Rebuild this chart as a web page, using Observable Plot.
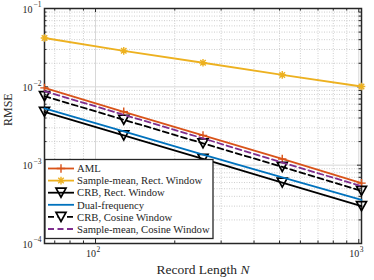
<!DOCTYPE html>
<html><head><meta charset="utf-8">
<script src="https://cdn.jsdelivr.net/npm/d3@7"></script>
<script src="https://cdn.jsdelivr.net/npm/@observablehq/plot@0.6"></script>
<style>
html,body{margin:0;padding:0;background:#fff;}
#chart{position:relative;width:374px;height:280px;}
</style></head><body><div id="chart"></div>
<script>
// ---- data ----
const N = [64, 128, 256, 512, 1024];
const aml      = [0.0097, 0.0048, 0.0024, 0.0012, 0.00059];
const smRect   = [0.042, 0.0288, 0.0203, 0.0142, 0.0101];
const crbRect  = [0.0048, 0.0024, 0.0012, 0.0006, 0.0003];
const dualFreq = [0.0053, 0.0027, 0.00136, 0.0007, 0.00036];
const crbCos   = [0.0076, 0.0038, 0.0019, 0.00095, 0.00047];
const smCos    = [0.0088, 0.0044, 0.0022, 0.00108, 0.00054];
const seriesNames = ["AML", "Sample-mean, Rect. Window", "CRB, Rect. Window", "Dual-frequency", "CRB, Cosine Window", "Sample-mean, Cosine Window"];
const xMajor = [100, 1000];
const xExp = ["2", "3"];
const xMinor = [70, 80, 90, 200, 300, 400, 500, 600, 700, 800, 900];
const yMajor = [1e-4, 1e-3, 1e-2, 1e-1];
const yExp = ["\u22124", "\u22123", "\u22122", "\u22121"];
const yMinor = [2e-4,3e-4,4e-4,5e-4,6e-4,7e-4,8e-4,9e-4,2e-3,3e-3,4e-3,5e-3,6e-3,7e-3,8e-3,9e-3,2e-2,3e-2,4e-2,5e-2,6e-2,7e-2,8e-2,9e-2];
const xLabel = "Record Length N";
const yLabel = "RMSE";

// ---- layout ----
const W = 374, H = 280, mL = 44, mR = 13, mT = 8, mB = 37;
const fw = W - mL - mR, fh = H - mT - mB;
const font = "'Liberation Serif','Times New Roman',serif";
const ink = "#262626";

// custom marker symbols
const symPlus = {draw(c, s){const r=Math.sqrt(s/Math.PI); c.moveTo(-r,0); c.lineTo(r,0); c.moveTo(0,-r); c.lineTo(0,r);}};
const symStar = {draw(c, s){const r=Math.sqrt(s/Math.PI), d=r*0.72; c.moveTo(-r,0); c.lineTo(r,0); c.moveTo(0,-r); c.lineTo(0,r); c.moveTo(-d,-d); c.lineTo(d,d); c.moveTo(-d,d); c.lineTo(d,-d);}};
const symTri = {draw(c, s){const r=Math.sqrt(s/Math.PI); c.moveTo(-r,-0.9*r); c.lineTo(r,-0.9*r); c.lineTo(0,0.9*r); c.closePath();}};

const styles = [
  {ys: aml,      color: "#D95319", dash: null,    sym: symPlus, r: 4.2, sw: 1.4},
  {ys: smRect,   color: "#EDB120", dash: null,    sym: symStar, r: 3.8, sw: 1.4},
  {ys: crbRect,  color: "#000000", dash: null,    sym: symTri,  r: 5, sw: 1.7},
  {ys: dualFreq, color: "#0072BD", dash: null,    sym: null},
  {ys: crbCos,   color: "#000000", dash: "6,3.5", sym: symTri,  r: 5, sw: 1.7},
  {ys: smCos,    color: "#7E2F8E", dash: "6,3.5", sym: null}
];
const rows = ys => N.map((n, i) => ({n, v: ys[i]}));

const marks = [
  // grid
  Plot.ruleX(xMinor, {stroke: "#c2c2c2", strokeWidth: 0.8, strokeDasharray: "1,1.5"}),
  Plot.ruleY(yMinor, {stroke: "#c2c2c2", strokeWidth: 0.8, strokeDasharray: "1,1.5"}),
  Plot.ruleX(xMajor, {stroke: "#d8d8d8", strokeWidth: 1}),
  Plot.ruleY(yMajor, {stroke: "#d8d8d8", strokeWidth: 1}),
  // inward ticks on all sides
  Plot.ruleX(xMajor, {stroke: ink, insetTop: fh - 4}),
  Plot.ruleX(xMajor, {stroke: ink, insetBottom: fh - 4}),
  Plot.ruleX(xMinor, {stroke: ink, insetTop: fh - 2.5}),
  Plot.ruleX(xMinor, {stroke: ink, insetBottom: fh - 2.5}),
  Plot.ruleY(yMajor, {stroke: ink, insetRight: fw - 4}),
  Plot.ruleY(yMajor, {stroke: ink, insetLeft: fw - 4}),
  Plot.ruleY(yMinor, {stroke: ink, insetRight: fw - 2.5}),
  Plot.ruleY(yMinor, {stroke: ink, insetLeft: fw - 2.5}),
  Plot.frame({stroke: ink, strokeWidth: 1.5}),
  // tick labels
  Plot.text(yMajor, {y: d => d, frameAnchor: "left", text: () => "10", textAnchor: "end", dx: -12, dy: 1, fontSize: 10, fill: ink}),
  Plot.text(yMajor, {y: d => d, frameAnchor: "left", text: (d, i) => yExp[i], textAnchor: "end", dx: -3, dy: -3.5, fontSize: 7.5, fill: ink}),
  Plot.text(xMajor, {x: d => d, frameAnchor: "bottom", text: () => "10", textAnchor: "end", dx: 0.5, dy: 13.5, fontSize: 10, fill: ink}),
  Plot.text(xMajor, {x: d => d, frameAnchor: "bottom", text: (d, i) => xExp[i], textAnchor: "start", dx: 1, dy: 8.5, fontSize: 7.5, fill: ink}),
  // axis labels
  Plot.text([xLabel], {frameAnchor: "bottom", text: d => d, dy: 30, fontSize: 13.5, fill: ink, className: "xlab"}),
  Plot.text([yLabel], {frameAnchor: "left", text: d => d, rotate: -90, dx: -36, fontSize: 12, fill: ink})
];
styles.forEach(s => {
  marks.push(Plot.line(rows(s.ys), {x: "n", y: "v", stroke: s.color, strokeWidth: 1.8, strokeDasharray: s.dash}));
  if (s.sym) marks.push(Plot.dot(rows(s.ys), {x: "n", y: "v", symbol: s.sym, r: s.r, fill: "none", stroke: s.color, strokeWidth: s.sw}));
});

const svg = Plot.plot({
  width: W, height: H,
  marginLeft: mL, marginRight: mR, marginTop: mT, marginBottom: mB,
  style: {fontFamily: font, background: "#fff", color: ink, overflow: "visible"},
  x: {type: "log", domain: [64, 1024], axis: null},
  y: {type: "log", domain: [1e-4, 1e-1], axis: null},
  marks
});
document.getElementById("chart").appendChild(svg);

// italic N in the x label
const xt = d3.select(svg).select(".xlab text");
if (!xt.empty()) {
  const full = xt.text();
  const head = full.slice(0, full.length - 1), tail = full.slice(-1);
  xt.text(head);
  xt.append("tspan").attr("font-style", "italic").text(tail);
}

// legend box (inside plot, lower-left)
const leg = d3.select(svg).append("g").attr("font-family", font).attr("font-size", 10.7)
  .attr("fill", ink).attr("text-anchor", "start");
leg.append("rect").attr("x", 45).attr("y", 159.5).attr("width", 168).attr("height", 79)
  .attr("fill", "#fff").attr("stroke", ink).attr("stroke-width", 1.3);
styles.forEach((s, i) => {
  const cy = 168.5 + i * 12.1;
  leg.append("line").attr("x1", 48).attr("x2", 74).attr("y1", cy).attr("y2", cy)
    .attr("stroke", s.color).attr("stroke-width", 1.8).attr("stroke-dasharray", s.dash);
  if (s.sym) leg.append("path").attr("d", d3.symbol(s.sym, s.r * s.r * Math.PI)())
    .attr("transform", `translate(61,${cy})`).attr("fill", s.dash ? "#fff" : "none")
    .attr("stroke", s.color).attr("stroke-width", s.sw);
  leg.append("text").attr("x", 77).attr("y", cy).attr("dy", "0.35em").attr("text-anchor", "start").text(seriesNames[i]);
});
</script></body></html>
